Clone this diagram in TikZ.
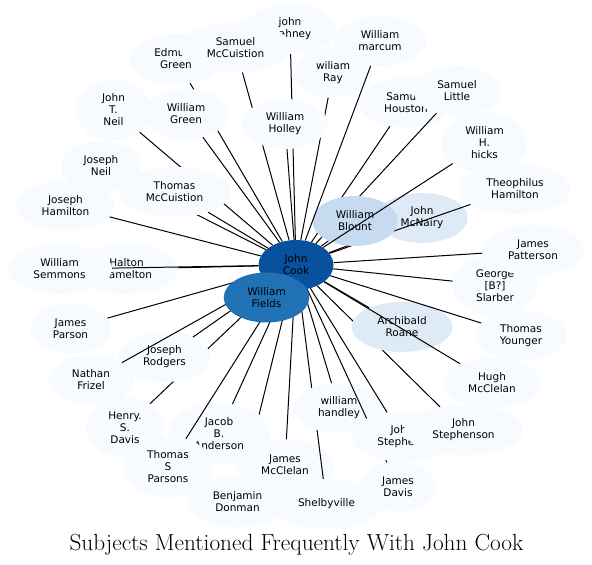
\documentclass[tikz,border=0pt]{standalone}
\usepackage{fontspec}
\usepackage{tikz}
\usetikzlibrary{shapes.geometric}
\newfontfamily\subjfont{DejaVu Sans}
\definecolor{blues0}{HTML}{F7FBFF}
\definecolor{blues1}{HTML}{DEEBF7}
\definecolor{blues2}{HTML}{C6DBEF}
\definecolor{blues6}{HTML}{2171B5}
\definecolor{blues7}{HTML}{08519C}
\tikzset{
  subj/.style={ellipse, fill=#1, align=center, font=\subjfont\fontsize{10.5}{12}\selectfont,
               inner xsep=11pt, inner ysep=5.5pt, minimum width=75pt, minimum height=50pt},
  subj/.default=blues0,
  link/.style={line width=1pt},
  ttl/.style={font=\fontsize{23.3}{28}\selectfont, anchor=base}
}

\begin{document}
\begin{tikzpicture}[x=1pt, y=-1pt]
\useasboundingbox (0,0) rectangle (592,565);
\node[subj=blues7] (cook) at (296,265) {John\\Cook};
\node[subj=blues1] (mcnairy) at (422,218) {John\\McNairy};
\draw[link] (cook) -- (mcnairy);
\node[subj] (theo) at (515,189) {Theophilus\\Hamilton};
\draw[link] (cook) -- (theo);
\node[subj] (houston) at (406,102.5) {Samuel\\Houston};
\draw[link] (cook) -- (houston);
\node[subj] (little) at (457,91) {Samuel\\Little};
\draw[link] (cook) -- (little);
\node[subj=blues2] (blount) at (355,221) {William\\Blount};
\draw[link] (cook) -- (blount);
\node[subj] (hicks) at (484.5,143) {William\\H.\\hicks};
\draw[link] (cook) -- (hicks);
\node[subj] (mahney) at (290,29) {john\\mahney};
\draw[link] (cook) -- (mahney);
\node[subj] (edmund) at (176,59) {Edmund\\Green};
\draw[link] (cook) -- (edmund);
\node[subj] (smccuistion) at (235.5,47.5) {Samuel\\McCuistion};
\draw[link] (cook) -- (smccuistion);
\node[subj] (ray) at (333,72.5) {wiliam\\Ray};
\draw[link] (cook) -- (ray);
\node[subj] (holley) at (285,124) {William\\Holley};
\draw[link] (cook) -- (holley);
\node[subj] (marcum) at (380,41) {William\\marcum};
\draw[link] (cook) -- (marcum);
\node[subj] (wgreen) at (186,114) {William\\Green};
\draw[link] (cook) -- (wgreen);
\node[subj] (jtneil) at (113.5,110) {John\\T.\\Neil};
\draw[link] (cook) -- (jtneil);
\node[subj] (jneil) at (101,166) {Joseph\\Neil};
\draw[link] (cook) -- (jneil);
\node[subj] (tmccuistion) at (174.5,192) {Thomas\\McCuistion};
\draw[link] (cook) -- (tmccuistion);
\node[subj] (jhamilton) at (65.5,205.5) {Joseph\\Hamilton};
\draw[link] (cook) -- (jhamilton);
\node[subj] (halton) at (126.5,269) {Halton\\Hamelton};
\draw[link] (cook) -- (halton);
\node[subj] (semmons) at (59.5,269) {William\\Semmons};
\draw[link] (cook) -- (semmons);
\node[subj] (parson) at (70.5,328.5) {James\\Parson};
\draw[link] (cook) -- (parson);
\node[subj] (henry) at (125,427.5) {Henry.\\S.\\Davis};
\draw[link] (cook) -- (henry);
\node[subj] (rodgers) at (164.5,357) {Joseph\\Rodgers};
\draw[link] (cook) -- (rodgers);
\node[subj] (nathan) at (91,380) {Nathan\\Frizel};
\draw[link] (cook) -- (nathan);
\node[subj] (donman) at (237.5,502) {Benjamin\\Donman};
\draw[link] (cook) -- (donman);
\node[subj] (jacob) at (219,433.5) {Jacob\\B.\\Anderson};
\draw[link] (cook) -- (jacob);
\node[subj] (parsons) at (168,467) {Thomas\\S\\Parsons};
\draw[link] (cook) -- (parsons);
\node[subj] (jmcclelan) at (285,464.5) {James\\McClelan};
\draw[link] (cook) -- (jmcclelan);
\node[subj] (shelby) at (326.5,504) {Shelbyville};
\draw[link] (cook) -- (shelby);
\node[subj] (handley) at (339,408) {william\\handley};
\draw[link] (cook) -- (handley);
\node[subj] (davis) at (398,486.5) {James\\Davis};
\draw[link] (cook) -- (davis);
\node[subj] (jstephens) at (402,436.5) {John\\Stephens};
\draw[link] (cook) -- (jstephens);
\node[subj] (jstephenson) at (463.5,430) {John\\Stephenson};
\draw[link] (cook) -- (jstephenson);
\node[subj=blues1] (roane) at (402,327) {Archibald\\Roane};
\draw[link] (cook) -- (roane);
\node[subj] (hugh) at (492,383) {Hugh\\McClelan};
\draw[link] (cook) -- (hugh);
\node[subj] (younger) at (521,335.5) {Thomas\\Younger};
\draw[link] (cook) -- (younger);
\node[subj] (slarber) at (495,285.5) {George\\{[B?]}\\Slarber};
\draw[link] (cook) -- (slarber);
\node[subj] (patterson) at (533,250) {James\\Patterson};
\draw[link] (cook) -- (patterson);
\node[subj=blues6] (fields) at (266.5,297.5) {William\\Fields};
\node[ttl] (title) at (296.5,550) {Subjects Mentioned Frequently With John Cook};
\end{tikzpicture}
\end{document}
